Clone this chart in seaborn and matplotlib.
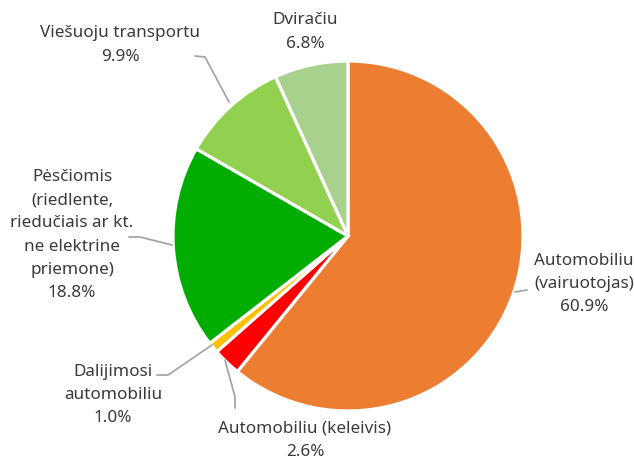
import matplotlib
matplotlib.use("Agg")
import matplotlib.pyplot as plt
import seaborn as sns

# shares of trips by transport mode (clockwise from 12 o'clock)
labels = ["Automobiliu\n(vairuotojas)", "Automobiliu (keleivis)", "Dalijimosi\nautomobiliu",
          "Pėsčiomis\n(riedlente,\nriedučiais ar kt.\nne elektrine\npriemone)",
          "Viešuoju transportu", "Dviračiu"]
values = [60.9, 2.6, 1.0, 18.8, 9.9, 6.8]
colors = ["#ED7D31", "#FF0000", "#FFC000", "#00AD00", "#92D050", "#A9D18E"]

sns.set_theme(style="white")
plt.rcParams['font.family'] = ['Noto Sans', 'DejaVu Sans']

W, H = 634, 462
fig = plt.figure(figsize=(W / 100, H / 100), dpi=100)
ax = fig.add_axes([0, 0, 1, 1])

cx, cy, r = 348, H - 236, 175
ax.pie(values, colors=colors, startangle=90, counterclock=False,
       center=(cx, cy), radius=r, frame=True,
       wedgeprops=dict(edgecolor="white", linewidth=2.3))
ax.set_xlim(0, W)
ax.set_ylim(0, H)
ax.set_aspect("equal")
ax.axis("off")

# label placement in pixel coordinates (x, y-from-top)
label_pos = [(584, 284), (305, 440), (113, 395), (72, 235), (120, 45), (305, 32)]
# leader lines: list of points (x, y-from-top)
leaders = [
    [(515, 292), (527, 290)],
    [(225, 360), (235, 397), (235, 408)],
    [(157, 375), (168, 375), (212, 345)],
    [(129, 237), (140, 237), (172, 245)],
    [(195, 56), (205, 57), (229, 102)],
    None,
]

txt = "#3A3A3A"
for lab, v, (x, y), ld in zip(labels, values, label_pos, leaders):
    ax.text(x, H - y, f"{lab}\n{v:.1f}%", ha="center", va="center",
            fontsize=12.3, color=txt, linespacing=1.6)
    if ld:
        ax.plot([p[0] for p in ld], [H - p[1] for p in ld], color="#A6A6A6", lw=1.3)

fig.savefig("out.png", dpi=100)
